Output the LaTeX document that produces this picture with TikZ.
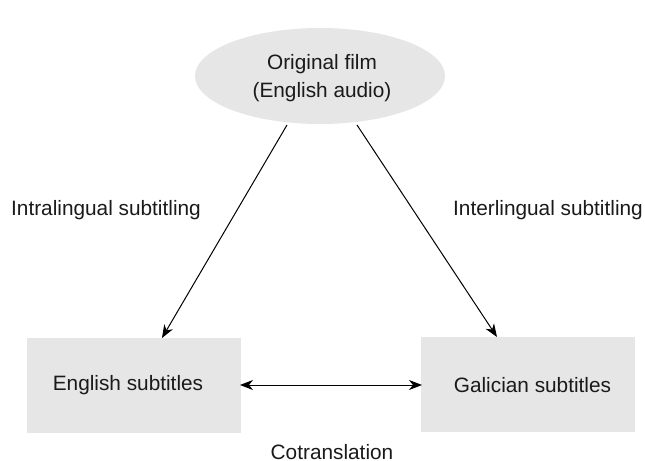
\documentclass[tikz,border=0pt]{standalone}
\usepackage{fontspec}
\setmainfont{Liberation Sans}
\usetikzlibrary{shapes.geometric,arrows.meta}
\definecolor{boxgray}{HTML}{E6E6E6}
\definecolor{txt}{HTML}{1A1A1A}
\tikzset{
  every node/.style={font=\fontsize{10.4}{13.7}\selectfont, text=txt},
  film/.style={ellipse, fill=boxgray, draw=none, minimum width=125pt, minimum height=48pt, inner sep=0pt, align=center},
  subbox/.style={rectangle, fill=boxgray, draw=none, minimum width=107pt, minimum height=47.5pt, inner sep=0pt},
  arr/.style={-{Stealth[length=6.5pt,width=5pt,inset=2pt]}, line width=0.5pt, black},
  darr/.style={{Stealth[length=6.5pt,width=5pt,inset=2pt]}-{Stealth[length=6.5pt,width=5pt,inset=2pt]}, line width=0.5pt, black},
  lbl/.style={inner sep=0pt}
}
\begin{document}
\begin{tikzpicture}[x=0.5pt,y=-0.5pt]
\useasboundingbox (0,0) rectangle (645,461);
\node[film] (e) at (320,76) {};
\node[lbl, align=center] (et) at (322,78) {Original film\\(English audio)};
\node[subbox] (l) at (134,385.5) {};
\node[subbox] (r) at (528,384) {};
\node[lbl] (lt) at (128,385) {English subtitles};
\node[lbl] (rt) at (532.5,385) {Galician subtitles};
\node[lbl] (t1) at (106,210) {Intralingual subtitling};
\node[lbl] (t2) at (548,210) {Interlingual subtitling};
\node[lbl] (t3) at (332,452) {Cotranslation};
\coordinate (a1) at (287,125);
\coordinate (b1) at (162,338);
\coordinate (a2) at (357,125);
\coordinate (b2) at (497,337);
\coordinate (h1) at (240,385);
\coordinate (h2) at (422,385);
\draw[arr] (a1) -- (b1);
\draw[arr] (a2) -- (b2);
\draw[darr] (h1) -- (h2);
\end{tikzpicture}
\end{document}
